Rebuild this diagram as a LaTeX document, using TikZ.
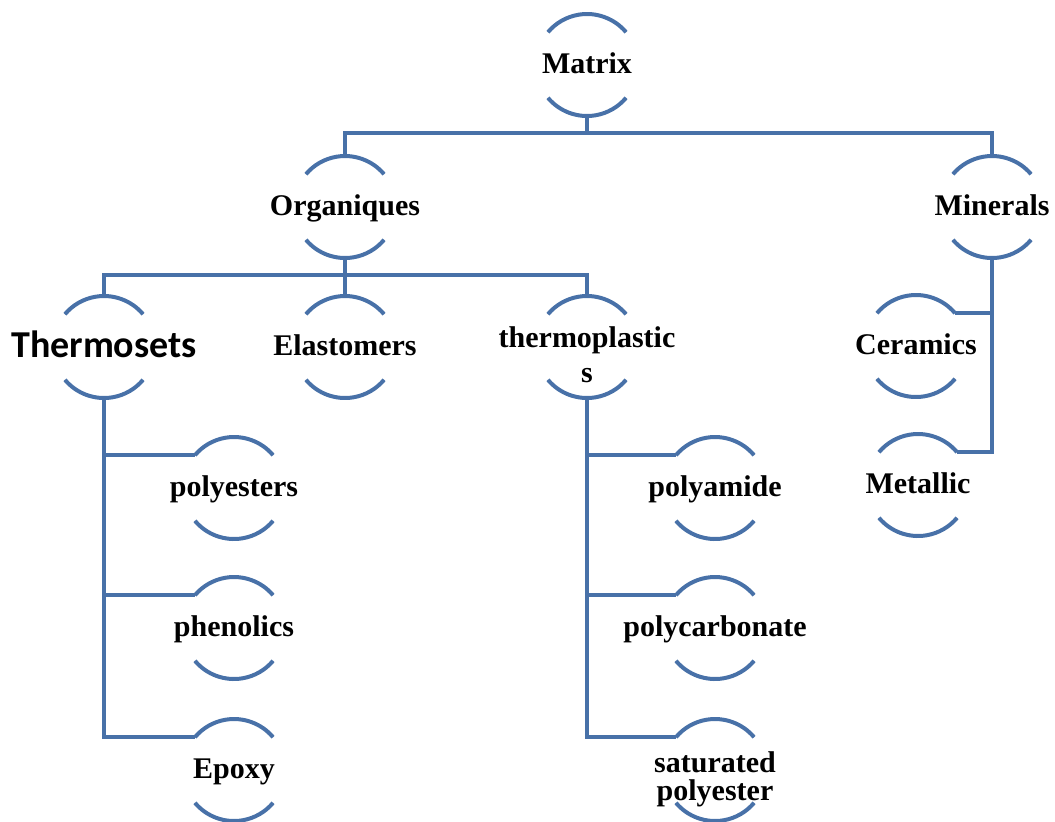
\documentclass[tikz,border=0pt]{standalone}
\usepackage{fontspec}
\setmainfont{Liberation Serif}
\newfontfamily\calfont{Carlito}
\usepackage{tikz}
\usetikzlibrary{positioning}

\definecolor{smartblue}{RGB}{72,113,168}

\tikzset{
  bub/.style={circle, minimum size=51pt, inner sep=0pt, outer sep=0pt},
  txt/.style={inner sep=0pt, align=center, anchor=base, font=\fontsize{15}{14}\selectfont\bfseries},
  link/.style={draw=smartblue, line width=2pt},
  rim/.style={draw=smartblue, line width=2pt}
}

\begin{document}
\begin{tikzpicture}[x=0.5pt,y=0.5pt]
\useasboundingbox (0,0) rectangle (1055,-821);
% bubbles
\node[bub] (mat) at (587,-65) {};
\node[bub] (org) at (345,-207) {};
\node[bub] (min) at (992,-207) {};
\node[bub] (ths) at (104,-347) {};
\node[bub] (ela) at (345,-347) {};
\node[bub] (thp) at (587,-347) {};
\node[bub] (cer) at (916,-346) {};
\node[bub] (met) at (918,-485) {};
\node[bub] (pes) at (234,-488) {};
\node[bub] (phe) at (234,-628) {};
\node[bub] (epo) at (234,-770) {};
\node[bub] (pam) at (715,-488) {};
\node[bub] (pca) at (715,-628) {};
\node[bub] (spe) at (715,-770) {};
% texts
\node[txt] (mat-t) at ([yshift=-4pt]mat) {Matrix};
\node[txt] (org-t) at ([yshift=-4pt]org) {Organiques};
\node[txt] (min-t) at ([yshift=-4pt]min) {Minerals};
\node[txt, font=\calfont\fontsize{19}{20}\selectfont\bfseries] (ths-t) at ([yshift=-5pt]ths) {Thermosets};
\node[txt] (ela-t) at ([yshift=-4pt]ela) {Elastomers};
\node[txt, anchor=center] (thp-t) at ([yshift=-4pt]thp) {thermoplastic\\[3.5pt]s};
\node[txt] (cer-t) at ([yshift=-4pt]cer) {Ceramics};
\node[txt] (met-t) at ([yshift=-4pt]met) {Metallic};
\node[txt] (pes-t) at ([yshift=-4pt]pes) {polyesters};
\node[txt] (phe-t) at ([yshift=-4pt]phe) {phenolics};
\node[txt] (epo-t) at ([yshift=-4pt]epo) {Epoxy};
\node[txt] (pam-t) at ([yshift=-4pt]pam) {polyamide};
\node[txt] (pca-t) at ([yshift=-4pt]pca) {polycarbonate};
\node[txt, anchor=center] (spe-t) at ([yshift=-4.5pt]spe) {saturated\\polyester};
% arcs
\foreach \n in {mat,org,min,ths,ela,thp,cer,met,pes,phe,epo,pam,pca,spe}{
  \draw[rim] (\n.40) arc[start angle=40, end angle=140, radius=25.5pt];
  \draw[rim] (\n.220) arc[start angle=220, end angle=320, radius=25.5pt];
}
% connectors
\draw[link] (mat.south) -- ++(0,-17) -| (org.north);
\draw[link] (mat.south) -- ++(0,-17) -| (min.north);
\draw[link] (org.south) -- ++(0,-17) -| (ths.north);
\draw[link] (org.south) -- (ela.north);
\draw[link] (org.south) -- ++(0,-17) -| (thp.north);
\draw[link] (min.south) |- (cer.40);
\draw[link] (min.south) |- (met.40);
\foreach \c in {pes,phe,epo}\draw[link] (ths.south) |- (\c.140);
\foreach \c in {pam,pca,spe}\draw[link] (thp.south) |- (\c.140);
\end{tikzpicture}
\end{document}
